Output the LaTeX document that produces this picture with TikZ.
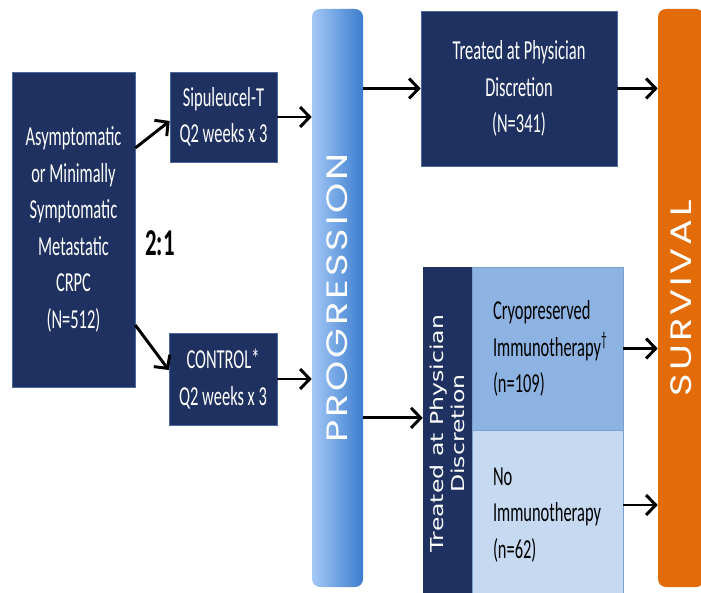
\documentclass[tikz,border=0pt]{standalone}
\usepackage{fontspec}
\setmainfont{Carlito}
\newfontfamily\narrowfont[FakeStretch=0.6]{Carlito}
\newfontfamily\barfont[FakeStretch=1.3,LetterSpace=10]{Poppins}
\newfontfamily\stripfont[FakeStretch=1.33]{DejaVu Sans}
\usetikzlibrary{arrows.meta}
\definecolor{navy}{RGB}{31,49,96}
\definecolor{navyedge}{RGB}{74,104,160}
\definecolor{cryoblue}{RGB}{141,179,226}
\definecolor{paleblue}{RGB}{197,217,241}
\definecolor{celledge}{RGB}{120,160,210}
\definecolor{progleft}{RGB}{163,200,246}
\definecolor{progright}{RGB}{60,125,206}
\definecolor{survorange}{RGB}{227,108,9}

\begin{document}
\begin{tikzpicture}[inner sep=3pt]
		\tikzstyle{every node}=[align=center]
		\tikzstyle{navybox}=[draw=navyedge, fill=navy, text=white, font=\narrowfont\fontsize{19.5}{26}\selectfont]
		\tikzstyle{armcell}=[draw=celledge, text=black, align=left, text width=2.725cm, minimum width=3.775cm, font=\narrowfont\fontsize{19.5}{26}\selectfont]
		\tikzstyle{phasebar}=[rotate=90, rounded corners=0.2cm, text=white, font=\barfont\fontsize{21}{24}\selectfont]
		\tikzstyle{arrow}=[line width=2.1pt, -{Straight Barb[length=2.4mm, width=5mm, line width=2.1pt]}]

			\clip (0, 0) rectangle (17.525, 14.8);
			\fill[white] (0, 0) rectangle (17.525, 14.8);

			\node[navybox, minimum width=3.075cm, minimum height=7.875cm] (patients) at (1.8375, 9.0625) {Asymptomatic\\or Minimally\\Symptomatic\\Metastatic\\CRPC\\(N=512)};
			\node[navybox, minimum width=2.675cm, minimum height=2.25cm] (sipuleucel) at (5.5875, 11.875) {Sipuleucel-T\\Q2 weeks x 3};
			\node[navybox, minimum width=2.7cm, minimum height=2.3cm] (control) at (5.575, 5.325) {CONTROL*\\Q2 weeks x 3};
			\node[font=\narrowfont\bfseries\fontsize{27}{30}\selectfont] (ratio) at (4.0, 8.725) {2:1};

			\node[phasebar, left color=progleft, right color=progright, minimum width=14.45cm, minimum height=1.275cm] (progression) at (8.4375, 7.35) {PROGRESSION};

			\node[navybox, minimum width=4.9cm, minimum height=3.875cm] (treated) at (12.975, 12.5875) {Treated at Physician\\Discretion\\(N=341)};

			\node[rotate=90, fill=navy, text=white, minimum width=8.325cm, minimum height=1.225cm, font=\stripfont\fontsize{12.6}{15}\selectfont] (discretion) at (11.1875, 3.9625) {Treated at Physician\\Discretion};
			\node[armcell, fill=cryoblue, minimum height=4.075cm] (cryo) at (13.6875, 6.0875) {Cryopreserved\\Immunotherapy\textsuperscript{\dag}\\(n=109)};
			\node[armcell, fill=paleblue, minimum height=4.25cm] (noimmuno) at (13.6875, 1.925) {No\\Immunotherapy\\(n=62)};

			\node[phasebar, fill=survorange, minimum width=14.45cm, minimum height=1.15cm] (survival) at (17.025, 7.35) {SURVIVAL};

			\coordinate (discin) at ([yshift=0.39cm]discretion.north);
			\coordinate (noimmout) at ([yshift=0.25cm]noimmuno.east);

			\draw[arrow] ([yshift=2.0375cm]patients.east) -- ([yshift=-0.1cm]sipuleucel.west);
			\draw[arrow] ([yshift=-2.3875cm]patients.east) -- ([yshift=0.225cm]control.west);
			\draw[arrow] (sipuleucel.east) -- (sipuleucel.east -| progression.north);
			\draw[arrow] (control.east) -- (control.east -| progression.north);
			\draw[arrow] (treated.west -| progression.south) -- (treated.west);
			\draw[arrow] (discin -| progression.south) -- (discin);
			\draw[arrow] (treated.east) -- (treated.east -| survival.north);
			\draw[arrow] (cryo.east) -- (cryo.east -| survival.north);
			\draw[arrow] (noimmout) -- (noimmout -| survival.north);
		\end{tikzpicture}
\end{document}
